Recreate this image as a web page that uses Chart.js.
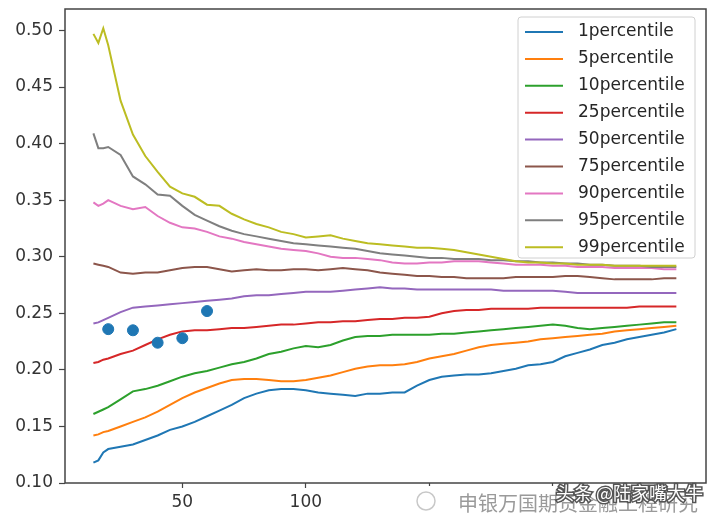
<!DOCTYPE html>
<html>
<head>
<meta charset="utf-8">
<script src="https://cdn.jsdelivr.net/npm/chart.js@4/dist/chart.umd.min.js"></script>
<style>
  html, body { margin: 0; padding: 0; background: #fff; }
  #wrap { width: 720px; height: 518px; position: relative; }
</style>
</head>
<body>
<div id="wrap"><canvas id="chart"></canvas></div>
<script>
// sample sizes along the x axis
const xs = [14, 16, 18, 20, 25, 30, 35, 40, 45, 50,
            55, 60, 65, 70, 75, 80, 85, 90, 95, 100,
            105, 110, 115, 120, 125, 130, 135, 140, 145, 150,
            155, 160, 165, 170, 175, 180, 185, 190, 195, 200,
            205, 210, 215, 220, 225, 230, 235, 240, 245, 250];

const p1 = [0.118, 0.120, 0.127, 0.130, 0.132, 0.134, 0.138, 0.142, 0.147, 0.150,
            0.154, 0.159, 0.164, 0.169, 0.175, 0.179, 0.182, 0.183, 0.183, 0.182,
            0.180, 0.179, 0.178, 0.177, 0.179, 0.179, 0.180, 0.180, 0.186, 0.191,
            0.194, 0.195, 0.196, 0.196, 0.197, 0.199, 0.201, 0.204, 0.205, 0.207,
            0.212, 0.215, 0.218, 0.222, 0.224, 0.227, 0.229, 0.231, 0.233, 0.236];
const p5 = [0.142, 0.143, 0.145, 0.146, 0.150, 0.154, 0.158, 0.163, 0.169, 0.175,
            0.180, 0.184, 0.188, 0.191, 0.192, 0.192, 0.191, 0.190, 0.190, 0.191,
            0.193, 0.195, 0.198, 0.201, 0.203, 0.204, 0.204, 0.205, 0.207, 0.210,
            0.212, 0.214, 0.217, 0.220, 0.222, 0.223, 0.224, 0.225, 0.227, 0.228,
            0.229, 0.230, 0.231, 0.232, 0.234, 0.235, 0.236, 0.237, 0.238, 0.239];
const p10 = [0.161, 0.163, 0.165, 0.167, 0.174, 0.181, 0.183, 0.186, 0.190, 0.194,
             0.197, 0.199, 0.202, 0.205, 0.207, 0.210, 0.214, 0.216, 0.219, 0.221,
             0.220, 0.222, 0.226, 0.229, 0.230, 0.230, 0.231, 0.231, 0.231, 0.231,
             0.232, 0.232, 0.233, 0.234, 0.235, 0.236, 0.237, 0.238, 0.239, 0.240,
             0.239, 0.237, 0.236, 0.237, 0.238, 0.239, 0.240, 0.241, 0.242, 0.242];
const p25 = [0.206, 0.207, 0.209, 0.210, 0.214, 0.217, 0.222, 0.227, 0.231, 0.234,
             0.235, 0.235, 0.236, 0.237, 0.237, 0.238, 0.239, 0.240, 0.240, 0.241,
             0.242, 0.242, 0.243, 0.243, 0.244, 0.245, 0.245, 0.246, 0.246, 0.247,
             0.250, 0.252, 0.253, 0.253, 0.254, 0.254, 0.254, 0.254, 0.255, 0.255,
             0.255, 0.255, 0.255, 0.255, 0.255, 0.255, 0.256, 0.256, 0.256, 0.256];
const p50 = [0.241, 0.242, 0.244, 0.246, 0.251, 0.255, 0.256, 0.257, 0.258, 0.259,
             0.260, 0.261, 0.262, 0.263, 0.265, 0.266, 0.266, 0.267, 0.268, 0.269,
             0.269, 0.269, 0.270, 0.271, 0.272, 0.273, 0.272, 0.272, 0.271, 0.271,
             0.271, 0.271, 0.271, 0.271, 0.271, 0.270, 0.270, 0.270, 0.270, 0.270,
             0.269, 0.268, 0.268, 0.268, 0.268, 0.268, 0.268, 0.268, 0.268, 0.268];
const p75 = [0.294, 0.293, 0.292, 0.291, 0.286, 0.285, 0.286, 0.286, 0.288, 0.290,
             0.291, 0.291, 0.289, 0.287, 0.288, 0.289, 0.288, 0.288, 0.289, 0.289,
             0.288, 0.289, 0.290, 0.289, 0.288, 0.286, 0.285, 0.284, 0.283, 0.283,
             0.282, 0.282, 0.281, 0.281, 0.281, 0.281, 0.282, 0.282, 0.282, 0.282,
             0.283, 0.283, 0.282, 0.281, 0.280, 0.280, 0.280, 0.280, 0.281, 0.281];
const p90 = [0.348, 0.345, 0.347, 0.350, 0.345, 0.342, 0.344, 0.336, 0.330, 0.326,
             0.325, 0.322, 0.318, 0.316, 0.313, 0.311, 0.309, 0.307, 0.306, 0.305,
             0.303, 0.300, 0.299, 0.299, 0.298, 0.297, 0.295, 0.294, 0.294, 0.295,
             0.295, 0.296, 0.296, 0.296, 0.295, 0.294, 0.293, 0.293, 0.293, 0.292,
             0.292, 0.291, 0.291, 0.291, 0.290, 0.290, 0.290, 0.290, 0.289, 0.289];
const p95 = [0.409, 0.396, 0.396, 0.397, 0.390, 0.371, 0.364, 0.355, 0.354, 0.345,
             0.337, 0.332, 0.327, 0.323, 0.320, 0.318, 0.316, 0.314, 0.312, 0.311,
             0.310, 0.309, 0.308, 0.307, 0.305, 0.303, 0.302, 0.301, 0.300, 0.299,
             0.299, 0.298, 0.298, 0.298, 0.297, 0.297, 0.296, 0.296, 0.295, 0.295,
             0.294, 0.294, 0.293, 0.293, 0.292, 0.292, 0.292, 0.291, 0.291, 0.291];
const p99 = [0.497, 0.489, 0.502, 0.487, 0.438, 0.408, 0.389, 0.375, 0.362, 0.356,
             0.353, 0.346, 0.345, 0.338, 0.333, 0.329, 0.326, 0.322, 0.320, 0.317,
             0.318, 0.319, 0.316, 0.314, 0.312, 0.311, 0.310, 0.309, 0.308, 0.308,
             0.307, 0.306, 0.304, 0.302, 0.300, 0.298, 0.296, 0.295, 0.295, 0.294,
             0.294, 0.293, 0.293, 0.293, 0.292, 0.292, 0.292, 0.292, 0.292, 0.292];

// observed points
const obsX = [20, 30, 40, 50, 60];
const obsY = [0.236, 0.235, 0.224, 0.228, 0.252];

const seriesNames = ['1percentile', '5percentile', '10percentile', '25percentile', '50percentile',
                     '75percentile', '90percentile', '95percentile', '99percentile'];
const seriesValues = [p1, p5, p10, p25, p50, p75, p90, p95, p99];
const colors = ['#1f77b4', '#ff7f0e', '#2ca02c', '#d62728', '#9467bd',
                '#8c564b', '#e377c2', '#7f7f7f', '#bcbd22'];

const xTicks = [50, 100, 150, 200, 250];
const yTicks = [0.10, 0.15, 0.20, 0.25, 0.30, 0.35, 0.40, 0.45, 0.50];

const FONT = "'DejaVu Sans', sans-serif";
const AXIS = '#444';

const datasets = seriesNames.map((name, i) => ({
    type: 'line',
    label: name,
    data: xs.map((x, j) => ({ x: x, y: seriesValues[i][j] })),
    borderColor: colors[i],
    borderWidth: 2,
    pointRadius: 0,
    tension: 0,
    fill: false,
    order: 10 - i
}));
datasets.push({
    type: 'scatter',
    label: 'obs',
    data: obsX.map((x, j) => ({ x: x, y: obsY[j] })),
    backgroundColor: '#1f77b4',
    borderColor: '#1f77b4',
    pointRadius: 5.5,
    order: 0
});

// box around plot + legend inside the top right corner
const frame = {
    id: 'frame',
    afterDatasetsDraw(chart) {
        const { ctx, chartArea: a } = chart;
        ctx.save();
        ctx.strokeStyle = AXIS;
        ctx.lineWidth = 1.5;
        ctx.strokeRect(a.left, a.top, a.right - a.left, a.bottom - a.top);

        const items = chart.data.datasets.filter(d => d.type === 'line');
        const rowH = 26.9, w = 177, h = 241;
        const x0 = a.right - 11 - w, y0 = a.top + 8;
        ctx.fillStyle = 'rgba(255,255,255,0.85)';
        ctx.strokeStyle = '#d0d0d0';
        ctx.lineWidth = 1;
        ctx.beginPath();
        ctx.roundRect(x0, y0, w, h, 3);
        ctx.fill();
        ctx.stroke();
        ctx.font = '17px ' + FONT;
        ctx.textBaseline = 'middle';
        ctx.fillStyle = '#262626';
        items.forEach((d, i) => {
            const y = y0 + 15 + i * rowH;
            ctx.strokeStyle = d.borderColor;
            ctx.lineWidth = 2;
            ctx.beginPath();
            ctx.moveTo(x0 + 7, y);
            ctx.lineTo(x0 + 45, y);
            ctx.stroke();
            ctx.fillText(d.label, x0 + 60, y);
        });
        ctx.restore();
    }
};

// watermark in the lower right of the picture
const watermark = {
    id: 'watermark',
    afterDraw(chart) {
        const ctx = chart.ctx;
        ctx.save();
        ctx.fillStyle = '#fff';
        ctx.fillRect(412, 486, 300, 32);
        ctx.beginPath();
        ctx.arc(426, 501, 9, 0, Math.PI * 2);
        ctx.strokeStyle = '#c8c8c8';
        ctx.lineWidth = 1.5;
        ctx.stroke();
        ctx.font = "20px 'Noto Sans CJK SC'";
        ctx.textBaseline = 'middle';
        ctx.fillStyle = '#9a9a9a';
        ctx.fillText('申银万国期货金融工程研究', 458, 503);
        ctx.font = "18px 'Noto Sans CJK SC'";
        ctx.lineWidth = 3;
        ctx.strokeStyle = '#555';
        ctx.strokeText('头条 @陆家嘴大牛', 556, 493);
        ctx.fillStyle = '#fff';
        ctx.fillText('头条 @陆家嘴大牛', 556, 493);
        ctx.restore();
    }
};

new Chart(document.getElementById('chart'), {
    data: { datasets: datasets },
    options: {
        responsive: true,
        maintainAspectRatio: false,
        animation: false,
        layout: { padding: { top: 9, right: 14, left: 0, bottom: 0 } },
        plugins: { legend: { display: false }, tooltip: { enabled: false } },
        scales: {
            x: {
                type: 'linear',
                min: 2.5,
                max: 262,
                afterBuildTicks: s => { s.ticks = xTicks.map(v => ({ value: v })); },
                afterFit: s => { s.height = 35; s.paddingLeft = 0; s.paddingRight = 0; },
                border: { display: false },
                grid: { drawOnChartArea: false, drawTicks: true, tickLength: 5, color: AXIS, tickWidth: 1.2 },
                ticks: { color: '#333', font: { family: FONT, size: 17 }, padding: 4, maxRotation: 0 }
            },
            y: {
                type: 'linear',
                min: 0.1,
                max: 0.519,
                afterBuildTicks: s => { s.ticks = yTicks.map(v => ({ value: v })); },
                afterFit: s => { s.width = 65; s.paddingTop = 0; s.paddingBottom = 0; },
                border: { display: false },
                grid: { drawOnChartArea: false, drawTicks: true, tickLength: 6, color: AXIS, tickWidth: 1.2 },
                ticks: {
                    color: '#333', font: { family: FONT, size: 17 }, padding: 6,
                    callback: v => v.toFixed(2)
                }
            }
        }
    },
    plugins: [frame, watermark]
});
</script>
</body>
</html>
